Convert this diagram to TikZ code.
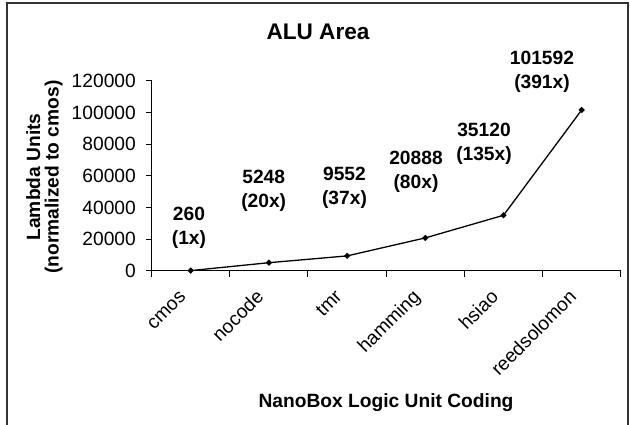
\documentclass[tikz,border=0pt]{standalone}
\usepackage{fontspec}
\setmainfont{Liberation Sans}
\usetikzlibrary{shapes.geometric}
\begin{document}
\begin{tikzpicture}[x=1pt,y=-1pt,
  lbl/.style={font=\fontsize{19.2}{22}\selectfont, inner sep=0pt},
  datalbl/.style={font=\fontsize{19.2}{24}\selectfont\bfseries, inner sep=0pt, align=center},
  catlbl/.style={font=\fontsize{19.2}{22}\selectfont, inner sep=0pt, rotate=45, anchor=base east},
  pt/.style={diamond, fill=black, inner sep=0pt, minimum size=6.5pt},
  axisline/.style={line width=1pt, black},
  dataline/.style={line width=1.3pt, black}]
\useasboundingbox (0,0) rectangle (630,425);
% outer frame
\draw[line width=2pt, black!80] (7,432) -- (7,3) -- (628,3) -- (628,432);
% title
\node[font=\fontsize{22.6}{26}\selectfont\bfseries, inner sep=0pt] (title) at (318,32) {ALU Area};
% axes
\coordinate (ytop) at (151.6,80.7);
\coordinate (ybot) at (151.6,277);
\coordinate (xl) at (151.6,271);
\coordinate (xr) at (620.7,271);
\draw[axisline] (ytop) -- (ybot);
\draw[axisline] (xl) -- (xr);
\foreach \i in {1,...,6} {
  \coordinate (xt\i) at (151.6+78.18*\i,271);
  \draw[axisline] (xt\i) -- ++(0,6);
}
\foreach \j/\v in {0/0,1/20000,2/40000,3/60000,4/80000,5/100000,6/120000} {
  \coordinate (yt\j) at (151.6,271-31.72*\j);
  \draw[axisline] (yt\j) -- ++(-6,0);
  \node[lbl, anchor=east] (ylab\j) at (136,271-31.72*\j) {\v};
}
% axis titles
\node[font=\fontsize{19.2}{18.5}\selectfont\bfseries, inner sep=0pt, align=center, rotate=90] (ytitle) at (44.5,177) {Lambda Units\\(normalized to cmos)};
\node[font=\fontsize{19.2}{22}\selectfont\bfseries, inner sep=0pt] (xtitle) at (386,403) {NanoBox Logic Unit Coding};
% category labels
\node[catlbl] (c1) at (186.7,298) {cmos};
\node[catlbl] (c2) at (264.9,298) {nocode};
\node[catlbl] (c3) at (343.1,298) {tmr};
\node[catlbl] (c4) at (421.3,298) {hamming};
\node[catlbl] (c5) at (499.5,298) {hsiao};
\node[catlbl] (c6) at (577.7,298) {reedsolomon};
% data points
\node[pt] (p1) at (190.7,270.6) {};
\node[pt] (p2) at (268.9,262.7) {};
\node[pt] (p3) at (347.1,255.9) {};
\node[pt] (p4) at (425.3,237.9) {};
\node[pt] (p5) at (503.5,215.3) {};
\node[pt] (p6) at (581.7,109.9) {};
\draw[dataline, line join=round] (p1.center) -- (p2.center) -- (p3.center) -- (p4.center) -- (p5.center) -- (p6.center);
% data labels
\node[datalbl] (d1) at (189,228) {260\\(1x)};
\node[datalbl] (d2) at (263.7,191) {5248\\(20x)};
\node[datalbl] (d3) at (344.5,188) {9552\\(37x)};
\node[datalbl] (d4) at (416,172) {20888\\(80x)};
\node[datalbl] (d5) at (484,144) {35120\\(135x)};
\node[datalbl] (d6) at (542,72) {101592\\(391x)};
\end{tikzpicture}
\end{document}
